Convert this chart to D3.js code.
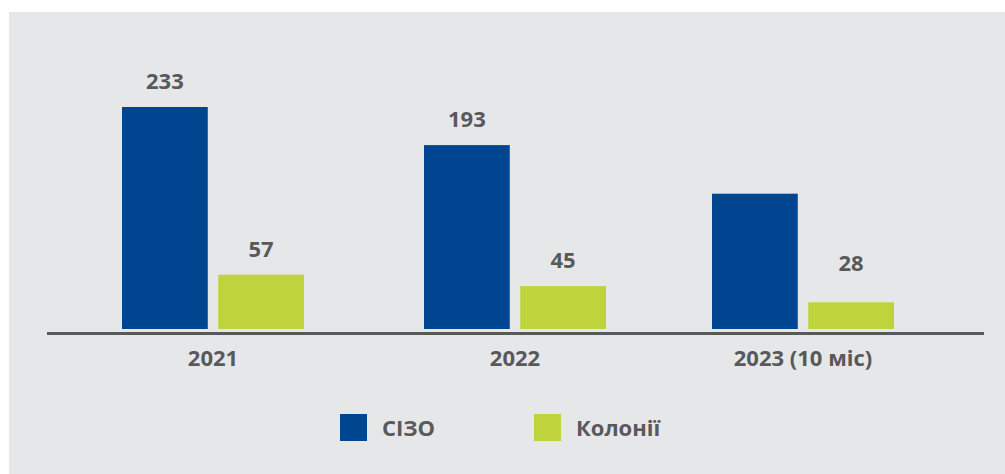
<!DOCTYPE html>
<html>
<head>
<meta charset="utf-8">
<script src="https://cdn.jsdelivr.net/npm/d3@7"></script>
<style>
  html, body { margin: 0; padding: 0; background: #fff; }
  svg { display: block; }
  text { font-family: "Open Sans", sans-serif; font-weight: 700; fill: #58595b; }
</style>
</head>
<body>
<svg width="1005" height="474"></svg>
<script>
const years = ["2021", "2022", "2023 (10 міс)"];
const seriesNames = ["СІЗО", "Колонії"];
const sizoValues = [233, 193, 142];
const koloniiValues = [57, 45, 28];
// the third blue bar carries no label in the original
const sizoLabels = ["233", "193", null];
const koloniiLabels = ["57", "45", "28"];

const COLORS = ["#00458f", "#bfd33c"];
const TEXT = "#58595b";

const svg = d3.select("svg");
const width = 1005;
const height = 474;

svg.append("rect")
  .attr("x", 9).attr("y", 12)
  .attr("width", width - 9).attr("height", height - 12)
  .attr("fill", "#e6e7e9");

const baseline = 329;

// group centres are not evenly spaced in the original
const x0 = d3.scaleOrdinal().domain(years).range([213, 515, 803]);
const x1 = d3.scaleBand().domain(seriesNames).range([-91, 91]).paddingInner(10 / 92);
const y = d3.scaleLinear().domain([0, 233]).range([baseline, 107]);

const rows = years.map((year, i) => ({
  year,
  bars: [
    { name: seriesNames[0], value: sizoValues[i], label: sizoLabels[i] },
    { name: seriesNames[1], value: koloniiValues[i], label: koloniiLabels[i] },
  ],
}));

const color = d3.scaleOrdinal().domain(seriesNames).range(COLORS);

const group = svg.append("g")
  .selectAll("g")
  .data(rows)
  .join("g")
  .attr("transform", (d) => `translate(${x0(d.year)},0)`);

group.selectAll("rect")
  .data((d) => d.bars)
  .join("rect")
  .attr("x", (d) => x1(d.name))
  .attr("y", (d) => y(d.value))
  .attr("width", x1.bandwidth())
  .attr("height", (d) => baseline - y(d.value))
  .attr("fill", (d) => color(d.name));

group.selectAll("text.value")
  .data((d) => d.bars.filter((b) => b.label))
  .join("text")
  .attr("class", "value")
  .attr("x", (d) => x1(d.name) + x1.bandwidth() / 2)
  .attr("y", (d) => Math.min(y(d.value) - 18, baseline - 58))
  .attr("text-anchor", "middle")
  .attr("font-size", 22)
  .text((d) => d.label);

// axis line
svg.append("line")
  .attr("x1", 47).attr("x2", 984)
  .attr("y1", 333.5).attr("y2", 333.5)
  .attr("stroke", TEXT)
  .attr("stroke-width", 3);

// category labels
svg.append("g")
  .selectAll("text")
  .data(years)
  .join("text")
  .attr("x", (d) => x0(d))
  .attr("y", baseline + 37)
  .attr("text-anchor", "middle")
  .attr("font-size", 22)
  .text((d) => d);

// legend
const legendX = [340, 534];
const legend = svg.append("g")
  .selectAll("g")
  .data(seriesNames)
  .join("g")
  .attr("transform", (d, i) => `translate(${legendX[i]},414)`);

legend.append("rect")
  .attr("width", 27)
  .attr("height", 27)
  .attr("fill", (d) => color(d));

legend.append("text")
  .attr("x", 42)
  .attr("y", 22)
  .attr("font-size", 22)
  .text((d) => d);
</script>
</body>
</html>
